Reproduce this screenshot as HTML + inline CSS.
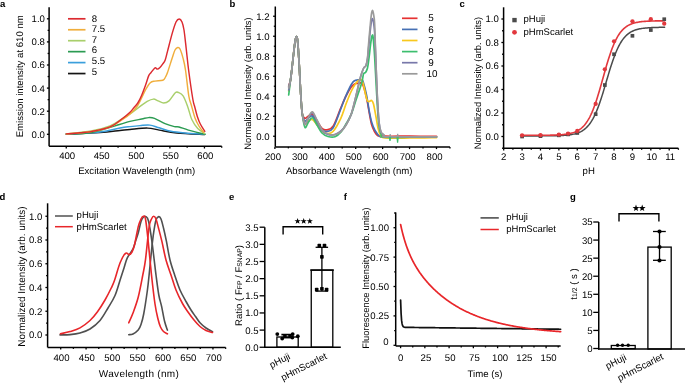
<!DOCTYPE html><html><head><meta charset="utf-8"><style>html,body{margin:0;padding:0;background:#fff;}svg{display:block;will-change:transform;}text{font-family:"Liberation Sans", sans-serif;text-rendering:geometricPrecision;}</style></head><body>
<svg width="685" height="384" viewBox="0 0 685 384">
<rect width="685" height="384" fill="#fff"/>
<text x="0" y="7.3" font-size="9.5" text-anchor="start" font-weight="bold" fill="#000">a</text>
<line x1="49.1" y1="146.3" x2="221.72" y2="146.3" stroke="#000" stroke-width="1.5" stroke-linecap="butt"/>
<line x1="66.25" y1="146.3" x2="66.25" y2="148.5" stroke="#000" stroke-width="1.3" stroke-linecap="butt"/>
<line x1="100.8" y1="146.3" x2="100.8" y2="148.5" stroke="#000" stroke-width="1.3" stroke-linecap="butt"/>
<line x1="135.35" y1="146.3" x2="135.35" y2="148.5" stroke="#000" stroke-width="1.3" stroke-linecap="butt"/>
<line x1="169.9" y1="146.3" x2="169.9" y2="148.5" stroke="#000" stroke-width="1.3" stroke-linecap="butt"/>
<line x1="204.45" y1="146.3" x2="204.45" y2="148.5" stroke="#000" stroke-width="1.3" stroke-linecap="butt"/>
<line x1="83.53" y1="146.3" x2="83.53" y2="147.8" stroke="#000" stroke-width="1.3" stroke-linecap="butt"/>
<line x1="118.07" y1="146.3" x2="118.07" y2="147.8" stroke="#000" stroke-width="1.3" stroke-linecap="butt"/>
<line x1="152.62" y1="146.3" x2="152.62" y2="147.8" stroke="#000" stroke-width="1.3" stroke-linecap="butt"/>
<line x1="187.18" y1="146.3" x2="187.18" y2="147.8" stroke="#000" stroke-width="1.3" stroke-linecap="butt"/>
<line x1="221.72" y1="146.3" x2="221.72" y2="147.8" stroke="#000" stroke-width="1.3" stroke-linecap="butt"/>
<text x="67.15" y="159.4" font-size="9.6" text-anchor="middle" font-weight="normal" fill="#000">400</text>
<text x="101.7" y="159.4" font-size="9.6" text-anchor="middle" font-weight="normal" fill="#000">450</text>
<text x="136.25" y="159.4" font-size="9.6" text-anchor="middle" font-weight="normal" fill="#000">500</text>
<text x="170.8" y="159.4" font-size="9.6" text-anchor="middle" font-weight="normal" fill="#000">550</text>
<text x="205.35" y="159.4" font-size="9.6" text-anchor="middle" font-weight="normal" fill="#000">600</text>
<line x1="49.1" y1="7.2" x2="49.1" y2="146.3" stroke="#000" stroke-width="1.5" stroke-linecap="butt"/>
<line x1="49.1" y1="134.3" x2="46.9" y2="134.3" stroke="#000" stroke-width="1.3" stroke-linecap="butt"/>
<line x1="49.1" y1="111.2" x2="46.9" y2="111.2" stroke="#000" stroke-width="1.3" stroke-linecap="butt"/>
<line x1="49.1" y1="88.1" x2="46.9" y2="88.1" stroke="#000" stroke-width="1.3" stroke-linecap="butt"/>
<line x1="49.1" y1="65" x2="46.9" y2="65" stroke="#000" stroke-width="1.3" stroke-linecap="butt"/>
<line x1="49.1" y1="41.9" x2="46.9" y2="41.9" stroke="#000" stroke-width="1.3" stroke-linecap="butt"/>
<line x1="49.1" y1="18.8" x2="46.9" y2="18.8" stroke="#000" stroke-width="1.3" stroke-linecap="butt"/>
<line x1="49.1" y1="122.75" x2="47.6" y2="122.75" stroke="#000" stroke-width="1.3" stroke-linecap="butt"/>
<line x1="49.1" y1="99.65" x2="47.6" y2="99.65" stroke="#000" stroke-width="1.3" stroke-linecap="butt"/>
<line x1="49.1" y1="76.55" x2="47.6" y2="76.55" stroke="#000" stroke-width="1.3" stroke-linecap="butt"/>
<line x1="49.1" y1="53.45" x2="47.6" y2="53.45" stroke="#000" stroke-width="1.3" stroke-linecap="butt"/>
<line x1="49.1" y1="30.35" x2="47.6" y2="30.35" stroke="#000" stroke-width="1.3" stroke-linecap="butt"/>
<text x="44.9" y="137.75" font-size="9.6" text-anchor="end" font-weight="normal" fill="#000">0.0</text>
<text x="44.9" y="114.65" font-size="9.6" text-anchor="end" font-weight="normal" fill="#000">0.2</text>
<text x="44.9" y="91.55" font-size="9.6" text-anchor="end" font-weight="normal" fill="#000">0.4</text>
<text x="44.9" y="68.45" font-size="9.6" text-anchor="end" font-weight="normal" fill="#000">0.6</text>
<text x="44.9" y="45.35" font-size="9.6" text-anchor="end" font-weight="normal" fill="#000">0.8</text>
<text x="44.9" y="22.25" font-size="9.6" text-anchor="end" font-weight="normal" fill="#000">1.0</text>
<text x="136.65" y="174" font-size="9.6" text-anchor="middle" font-weight="normal" fill="#000">Excitation Wavelength (nm)</text>
<text x="23" y="76.3" font-size="9.6" text-anchor="middle" font-weight="normal" fill="#000" transform="rotate(-90 23 76.3)">Emission intensity at 610 nm</text>
<line x1="68" y1="18.8" x2="85.5" y2="18.8" stroke="#dc2a30" stroke-width="1.7" stroke-linecap="butt"/>
<text x="91.8" y="21.55" font-size="9.6" text-anchor="start" font-weight="normal" fill="#000">8</text>
<line x1="68" y1="29.75" x2="85.5" y2="29.75" stroke="#f0ae3c" stroke-width="1.7" stroke-linecap="butt"/>
<text x="91.8" y="32.18" font-size="9.6" text-anchor="start" font-weight="normal" fill="#000">7.5</text>
<line x1="68" y1="40.7" x2="85.5" y2="40.7" stroke="#a9cf6c" stroke-width="1.7" stroke-linecap="butt"/>
<text x="91.8" y="42.81" font-size="9.6" text-anchor="start" font-weight="normal" fill="#000">7</text>
<line x1="68" y1="51.65" x2="85.5" y2="51.65" stroke="#2b9b52" stroke-width="1.7" stroke-linecap="butt"/>
<text x="91.8" y="53.44" font-size="9.6" text-anchor="start" font-weight="normal" fill="#000">6</text>
<line x1="68" y1="62.6" x2="85.5" y2="62.6" stroke="#3a9fdc" stroke-width="1.7" stroke-linecap="butt"/>
<text x="91.8" y="64.07" font-size="9.6" text-anchor="start" font-weight="normal" fill="#000">5.5</text>
<line x1="68" y1="73.55" x2="85.5" y2="73.55" stroke="#141414" stroke-width="1.7" stroke-linecap="butt"/>
<text x="91.8" y="74.7" font-size="9.6" text-anchor="start" font-weight="normal" fill="#000">5</text>
<path d="M66.3 134.2C71.92 133.92 91.05 133.12 100 132.5C108.95 131.88 115 131 120 130.5C125 130 125.42 129.9 130 129.5C134.58 129.1 142.63 128 147.5 128.1C152.37 128.2 154.33 129.28 159.2 130.1C164.07 130.92 169.1 132.27 176.7 133C184.3 133.73 200.12 134.25 204.8 134.5" fill="none" stroke="#141414" stroke-width="1.45" stroke-linejoin="round" stroke-linecap="round"/>
<path d="M66.3 134C71.92 133.67 91.05 133 100 132C108.95 131 115 128.9 120 128C125 127.1 126.67 127 130 126.6C133.33 126.2 136.68 125.85 140 125.6C143.32 125.35 146.7 124.73 149.9 125.1C153.1 125.47 155.7 126.77 159.2 127.8C162.7 128.83 166.6 130.43 170.9 131.3C175.2 132.17 179.35 132.52 185 133C190.65 133.48 201.5 134 204.8 134.2" fill="none" stroke="#3a9fdc" stroke-width="1.45" stroke-linejoin="round" stroke-linecap="round"/>
<path d="M66.3 134C70.42 133.75 82.15 134.08 91 132.5C99.85 130.92 112.9 126.36 119.4 124.5C125.9 122.64 126.28 122.27 130 121.35C133.72 120.43 138.58 119.62 141.7 119C144.82 118.38 146.57 117.7 148.7 117.6C150.83 117.5 151.78 117.38 154.5 118.4C157.22 119.42 161.68 122.33 165 123.7C168.32 125.07 172.07 126.05 174.4 126.6C176.73 127.15 176.67 126.42 179 127C181.33 127.58 184.1 128.9 188.4 130.1C192.7 131.3 202.07 133.52 204.8 134.2" fill="none" stroke="#2b9b52" stroke-width="1.45" stroke-linejoin="round" stroke-linecap="round"/>
<path d="M66.3 133.9C70.42 133.42 83.72 132.35 91 131C98.28 129.65 104.75 127.88 110 125.8C115.25 123.72 119.17 120.48 122.5 118.5C125.83 116.52 127.18 115.83 130 113.9C132.82 111.97 136.53 108.98 139.4 106.9C142.27 104.82 144.87 102.7 147.2 101.4C149.53 100.1 151.58 99.18 153.4 99.1C155.22 99.02 156.4 100.25 158.1 100.9C159.8 101.55 161.78 103 163.6 103C165.42 103 167.05 102.6 169 100.9C170.95 99.2 173.73 94.2 175.3 92.8C176.87 91.4 177.1 91.98 178.4 92.5C179.7 93.02 181.53 93.5 183.1 95.9C184.67 98.3 186.35 102.97 187.8 106.9C189.25 110.83 190.14 115.92 191.8 119.5C193.46 123.08 195.58 126.05 197.75 128.4C199.92 130.75 203.62 132.73 204.8 133.6" fill="none" stroke="#a9cf6c" stroke-width="1.45" stroke-linejoin="round" stroke-linecap="round"/>
<path d="M66.3 133.9C70.42 133.5 83.72 132.65 91 131.5C98.28 130.35 104.75 129 110 127C115.25 125 119.17 121.68 122.5 119.5C125.83 117.32 127.45 116.27 130 113.9C132.55 111.53 135.2 109.33 137.8 105.3C140.4 101.27 143.52 93.47 145.6 89.7C147.68 85.93 148.73 84.13 150.3 82.7C151.87 81.27 152.92 81.5 155 81.1C157.08 80.7 161.05 80.98 162.8 80.3C164.55 79.62 164.72 78.3 165.5 77C166.28 75.7 166.38 75.67 167.5 72.5C168.62 69.33 170.95 61.75 172.2 58C173.45 54.25 174.08 51.75 175 50C175.92 48.25 176.87 47.67 177.7 47.5C178.53 47.33 179.1 47.18 180 49C180.9 50.82 182.18 54.9 183.1 58.4C184.02 61.9 184.55 63.73 185.5 70C186.45 76.27 187.83 90.17 188.8 96C189.77 101.83 190.27 101.33 191.3 105C192.33 108.67 193.73 114.5 195 118C196.27 121.5 197.47 123.58 198.9 126C200.33 128.42 202.82 131.42 203.6 132.5" fill="none" stroke="#f0ae3c" stroke-width="1.45" stroke-linejoin="round" stroke-linecap="round"/>
<path d="M66.3 133.9C68.58 133.72 75.84 133.18 80 132.8C84.16 132.42 86.25 132.58 91.25 131.6C96.25 130.62 104.79 129.08 110 126.9C115.21 124.72 119.17 120.93 122.5 118.5C125.83 116.07 128.1 114.1 130 112.3C131.9 110.5 132.6 109.25 133.9 107.7C135.2 106.15 136.5 105.08 137.8 103C139.1 100.92 140.4 98.2 141.7 95.2C143 92.2 144.42 88.27 145.6 85C146.78 81.73 147.83 77.68 148.75 75.6C149.67 73.52 150.06 73.8 151.1 72.5C152.14 71.2 153.97 68.37 155 67.8C156.03 67.23 156.52 69.1 157.3 69.1C158.08 69.1 158.78 68.67 159.7 67.8C160.62 66.93 161.88 65.2 162.8 63.9C163.72 62.6 164.42 62.08 165.2 60C165.98 57.92 166.33 55.83 167.5 51.4C168.67 46.97 170.78 38.3 172.2 33.4C173.62 28.5 174.83 24.4 176 22C177.17 19.6 178.2 19 179.2 19C180.2 19 181.2 20.17 182 22C182.8 23.83 183.29 25.5 184 30C184.71 34.5 185.48 42.33 186.25 49C187.02 55.67 187.51 61.67 188.6 70C189.69 78.33 191.77 92.83 192.8 99C193.83 105.17 194.02 104 194.8 107C195.58 110 196.58 114.17 197.5 117C198.42 119.83 199.08 121.62 200.3 124C201.52 126.38 204.05 130.08 204.8 131.3" fill="none" stroke="#dc2a30" stroke-width="1.45" stroke-linejoin="round" stroke-linecap="round"/>
<text x="229.5" y="7.3" font-size="9.5" text-anchor="start" font-weight="bold" fill="#000">b</text>
<line x1="275.3" y1="146.9" x2="449.94" y2="146.9" stroke="#000" stroke-width="1.5" stroke-linecap="butt"/>
<line x1="274.9" y1="146.9" x2="274.9" y2="149.1" stroke="#000" stroke-width="1.3" stroke-linecap="butt"/>
<line x1="301.83" y1="146.9" x2="301.83" y2="149.1" stroke="#000" stroke-width="1.3" stroke-linecap="butt"/>
<line x1="328.76" y1="146.9" x2="328.76" y2="149.1" stroke="#000" stroke-width="1.3" stroke-linecap="butt"/>
<line x1="355.69" y1="146.9" x2="355.69" y2="149.1" stroke="#000" stroke-width="1.3" stroke-linecap="butt"/>
<line x1="382.62" y1="146.9" x2="382.62" y2="149.1" stroke="#000" stroke-width="1.3" stroke-linecap="butt"/>
<line x1="409.55" y1="146.9" x2="409.55" y2="149.1" stroke="#000" stroke-width="1.3" stroke-linecap="butt"/>
<line x1="436.48" y1="146.9" x2="436.48" y2="149.1" stroke="#000" stroke-width="1.3" stroke-linecap="butt"/>
<line x1="288.36" y1="146.9" x2="288.36" y2="148.4" stroke="#000" stroke-width="1.3" stroke-linecap="butt"/>
<line x1="315.29" y1="146.9" x2="315.29" y2="148.4" stroke="#000" stroke-width="1.3" stroke-linecap="butt"/>
<line x1="342.22" y1="146.9" x2="342.22" y2="148.4" stroke="#000" stroke-width="1.3" stroke-linecap="butt"/>
<line x1="369.15" y1="146.9" x2="369.15" y2="148.4" stroke="#000" stroke-width="1.3" stroke-linecap="butt"/>
<line x1="396.08" y1="146.9" x2="396.08" y2="148.4" stroke="#000" stroke-width="1.3" stroke-linecap="butt"/>
<line x1="423.01" y1="146.9" x2="423.01" y2="148.4" stroke="#000" stroke-width="1.3" stroke-linecap="butt"/>
<line x1="449.94" y1="146.9" x2="449.94" y2="148.4" stroke="#000" stroke-width="1.3" stroke-linecap="butt"/>
<text x="273" y="159.6" font-size="9.6" text-anchor="middle" font-weight="normal" fill="#000">200</text>
<text x="299.93" y="159.6" font-size="9.6" text-anchor="middle" font-weight="normal" fill="#000">300</text>
<text x="326.86" y="159.6" font-size="9.6" text-anchor="middle" font-weight="normal" fill="#000">400</text>
<text x="353.79" y="159.6" font-size="9.6" text-anchor="middle" font-weight="normal" fill="#000">500</text>
<text x="380.72" y="159.6" font-size="9.6" text-anchor="middle" font-weight="normal" fill="#000">600</text>
<text x="407.65" y="159.6" font-size="9.6" text-anchor="middle" font-weight="normal" fill="#000">700</text>
<text x="434.58" y="159.6" font-size="9.6" text-anchor="middle" font-weight="normal" fill="#000">800</text>
<line x1="275.3" y1="6.5" x2="275.3" y2="146.9" stroke="#000" stroke-width="1.5" stroke-linecap="butt"/>
<line x1="275.3" y1="136.25" x2="273.1" y2="136.25" stroke="#000" stroke-width="1.3" stroke-linecap="butt"/>
<line x1="275.3" y1="116.25" x2="273.1" y2="116.25" stroke="#000" stroke-width="1.3" stroke-linecap="butt"/>
<line x1="275.3" y1="96.25" x2="273.1" y2="96.25" stroke="#000" stroke-width="1.3" stroke-linecap="butt"/>
<line x1="275.3" y1="76.25" x2="273.1" y2="76.25" stroke="#000" stroke-width="1.3" stroke-linecap="butt"/>
<line x1="275.3" y1="56.25" x2="273.1" y2="56.25" stroke="#000" stroke-width="1.3" stroke-linecap="butt"/>
<line x1="275.3" y1="36.25" x2="273.1" y2="36.25" stroke="#000" stroke-width="1.3" stroke-linecap="butt"/>
<line x1="275.3" y1="16.25" x2="273.1" y2="16.25" stroke="#000" stroke-width="1.3" stroke-linecap="butt"/>
<line x1="275.3" y1="126.25" x2="273.8" y2="126.25" stroke="#000" stroke-width="1.3" stroke-linecap="butt"/>
<line x1="275.3" y1="106.25" x2="273.8" y2="106.25" stroke="#000" stroke-width="1.3" stroke-linecap="butt"/>
<line x1="275.3" y1="86.25" x2="273.8" y2="86.25" stroke="#000" stroke-width="1.3" stroke-linecap="butt"/>
<line x1="275.3" y1="66.25" x2="273.8" y2="66.25" stroke="#000" stroke-width="1.3" stroke-linecap="butt"/>
<line x1="275.3" y1="46.25" x2="273.8" y2="46.25" stroke="#000" stroke-width="1.3" stroke-linecap="butt"/>
<line x1="275.3" y1="26.25" x2="273.8" y2="26.25" stroke="#000" stroke-width="1.3" stroke-linecap="butt"/>
<text x="269.6" y="139.7" font-size="9.6" text-anchor="end" font-weight="normal" fill="#000">0.0</text>
<text x="269.6" y="119.7" font-size="9.6" text-anchor="end" font-weight="normal" fill="#000">0.2</text>
<text x="269.6" y="99.7" font-size="9.6" text-anchor="end" font-weight="normal" fill="#000">0.4</text>
<text x="269.6" y="79.7" font-size="9.6" text-anchor="end" font-weight="normal" fill="#000">0.6</text>
<text x="269.6" y="59.7" font-size="9.6" text-anchor="end" font-weight="normal" fill="#000">0.8</text>
<text x="269.6" y="39.7" font-size="9.6" text-anchor="end" font-weight="normal" fill="#000">1.0</text>
<text x="269.6" y="19.7" font-size="9.6" text-anchor="end" font-weight="normal" fill="#000">1.2</text>
<text x="349.19" y="174" font-size="9.6" text-anchor="middle" font-weight="normal" fill="#000">Absorbance Wavelength (nm)</text>
<text x="251.3" y="83.5" font-size="9.4" text-anchor="middle" font-weight="normal" fill="#000" transform="rotate(-90 251.3 83.5)">Normalized Intensity (arb. units)</text>
<line x1="402" y1="18.3" x2="417.5" y2="18.3" stroke="#e63232" stroke-width="1.7" stroke-linecap="butt"/>
<text x="428.3" y="21.4" font-size="9.9" text-anchor="start" font-weight="normal" fill="#000">5</text>
<line x1="402" y1="29.4" x2="417.5" y2="29.4" stroke="#4670b4" stroke-width="1.7" stroke-linecap="butt"/>
<text x="428.3" y="32.5" font-size="9.9" text-anchor="start" font-weight="normal" fill="#000">6</text>
<line x1="402" y1="40.5" x2="417.5" y2="40.5" stroke="#f8c81e" stroke-width="1.7" stroke-linecap="butt"/>
<text x="428.3" y="43.6" font-size="9.9" text-anchor="start" font-weight="normal" fill="#000">7</text>
<line x1="402" y1="51.6" x2="417.5" y2="51.6" stroke="#3cbe6e" stroke-width="1.7" stroke-linecap="butt"/>
<text x="428.3" y="54.7" font-size="9.9" text-anchor="start" font-weight="normal" fill="#000">8</text>
<line x1="402" y1="62.7" x2="417.5" y2="62.7" stroke="#7878aa" stroke-width="1.7" stroke-linecap="butt"/>
<text x="428.3" y="65.8" font-size="9.9" text-anchor="start" font-weight="normal" fill="#000">9</text>
<line x1="402" y1="73.8" x2="417.5" y2="73.8" stroke="#9a9a9a" stroke-width="1.7" stroke-linecap="butt"/>
<text x="426.5" y="76.9" font-size="9.9" text-anchor="start" font-weight="normal" fill="#000">10</text>
<path d="M288.7 86C289 85 289.95 83 290.5 80C291.05 77 291.42 73 292 68C292.58 63 293.47 54.5 294 50C294.53 45.5 294.85 43.17 295.2 41C295.55 38.83 295.77 37.5 296.1 37C296.43 36.5 296.85 36.17 297.2 38C297.55 39.83 297.82 42.67 298.2 48C298.58 53.33 299.07 62.17 299.5 70C299.93 77.83 300.33 87.67 300.8 95C301.27 102.33 301.6 110.12 302.3 114C303 117.88 303.97 117.97 305 118.3C306.03 118.63 307.27 116.63 308.5 116C309.73 115.37 310.98 113.67 312.4 114.5C313.82 115.33 315.4 118.67 317 121C318.6 123.33 320.33 127.03 322 128.5C323.67 129.97 325.12 130.22 327 129.8C328.88 129.38 331 129.65 333.3 126C335.6 122.35 338.68 112.9 340.8 107.9C342.92 102.9 344.26 99.48 346 96C347.74 92.52 349.75 89.03 351.25 87C352.75 84.97 353.96 84.42 355 83.8C356.04 83.18 356.38 83.38 357.5 83.3C358.62 83.22 360.62 82.52 361.7 83.3C362.78 84.08 363.12 85.22 364 88C364.88 90.78 366.08 95.67 367 100C367.92 104.33 368.73 109.92 369.5 114C370.27 118.08 370.77 121.58 371.6 124.5C372.43 127.42 373.47 129.65 374.5 131.5C375.53 133.35 376.05 134.82 377.8 135.6C379.55 136.38 379.63 136.1 385 136.2C390.37 136.3 401.42 136.18 410 136.2C418.58 136.22 432.08 136.28 436.5 136.3" fill="none" stroke="#e63232" stroke-width="1.7" stroke-linejoin="round" stroke-linecap="round"/>
<path d="M288.7 87C289 85.83 289.95 83.17 290.5 80C291.05 76.83 291.42 73 292 68C292.58 63 293.47 54.5 294 50C294.53 45.5 294.85 43.17 295.2 41C295.55 38.83 295.77 37.5 296.1 37C296.43 36.5 296.85 36.17 297.2 38C297.55 39.83 297.82 42.67 298.2 48C298.58 53.33 299.07 62.17 299.5 70C299.93 77.83 300.33 87.67 300.8 95C301.27 102.33 301.6 109.67 302.3 114C303 118.33 303.97 120.33 305 121C306.03 121.67 307.27 118.83 308.5 118C309.73 117.17 310.98 115.17 312.4 116C313.82 116.83 315.4 120.67 317 123C318.6 125.33 320.33 128.58 322 130C323.67 131.42 325.17 131.83 327 131.5C328.83 131.17 330.83 131.42 333 128C335.17 124.58 338 116 340 111C342 106 343.33 102 345 98C346.67 94 348.67 89.67 350 87C351.33 84.33 352.1 83.1 353 82C353.9 80.9 353.95 80.77 355.4 80.4C356.85 80.03 360.35 79.37 361.7 79.8C363.05 80.23 362.7 80.47 363.5 83C364.3 85.53 365.58 90.5 366.5 95C367.42 99.5 368.15 105.5 369 110C369.85 114.5 370.6 118.58 371.6 122C372.6 125.42 373.6 128.07 375 130.5C376.4 132.93 378.33 135.55 380 136.6C381.67 137.65 380 136.77 385 136.8C390 136.83 401.42 136.8 410 136.8C418.58 136.8 432.08 136.8 436.5 136.8" fill="none" stroke="#4670b4" stroke-width="1.7" stroke-linejoin="round" stroke-linecap="round"/>
<path d="M288.7 91C289 89.17 289.95 83.83 290.5 80C291.05 76.17 291.42 73 292 68C292.58 63 293.47 54.5 294 50C294.53 45.5 294.85 43.17 295.2 41C295.55 38.83 295.77 37.5 296.1 37C296.43 36.5 296.85 36.17 297.2 38C297.55 39.83 297.82 42.67 298.2 48C298.58 53.33 299.07 62.17 299.5 70C299.93 77.83 300.33 87.67 300.8 95C301.27 102.33 301.6 109.17 302.3 114C303 118.83 303.97 122.83 305 124C306.03 125.17 307.27 121.75 308.5 121C309.73 120.25 310.98 118.83 312.4 119.5C313.82 120.17 315.4 123.08 317 125C318.6 126.92 320.33 129.58 322 131C323.67 132.42 325.17 133.42 327 133.5C328.83 133.58 330.7 134.03 333 131.5C335.3 128.97 338.63 122.88 340.8 118.3C342.97 113.72 344.26 108.51 346 104C347.74 99.49 349.58 94.75 351.25 91.25C352.92 87.75 354.62 84.88 356 83C357.38 81.12 358.55 80.53 359.5 80C360.45 79.47 361.03 78.97 361.7 79.8C362.37 80.63 362.63 81.7 363.5 85C364.37 88.3 365.98 96.85 366.9 99.6C367.82 102.35 368.23 101.35 369 101.5C369.77 101.65 370.75 100.08 371.5 100.5C372.25 100.92 372.71 101.03 373.5 104C374.29 106.97 375.5 114.3 376.25 118.3C377 122.3 377.31 125.22 378 128C378.69 130.78 379.23 133.37 380.4 135C381.57 136.63 380.07 137.3 385 137.8C389.93 138.3 401.42 138.03 410 138C418.58 137.97 432.08 137.67 436.5 137.6" fill="none" stroke="#f8c81e" stroke-width="1.7" stroke-linejoin="round" stroke-linecap="round"/>
<path d="M288.7 95C289 92.5 289.95 84.5 290.5 80C291.05 75.5 291.42 73 292 68C292.58 63 293.47 54.5 294 50C294.53 45.5 294.85 43.17 295.2 41C295.55 38.83 295.77 37.5 296.1 37C296.43 36.5 296.85 36.17 297.2 38C297.55 39.83 297.82 42.67 298.2 48C298.58 53.33 299.07 62.17 299.5 70C299.93 77.83 300.33 87.67 300.8 95C301.27 102.33 301.6 108.58 302.3 114C303 119.42 303.97 126.17 305 127.5C306.03 128.83 307.27 123.62 308.5 122C309.73 120.38 310.98 117.3 312.4 117.8C313.82 118.3 315.4 122.47 317 125C318.6 127.53 320.18 131.08 322 133C323.82 134.92 325.73 135.87 327.9 136.5C330.07 137.13 332.82 137.55 335 136.8C337.18 136.05 339.17 134.13 341 132C342.83 129.87 344.29 126.97 346 124C347.71 121.03 349.58 118.2 351.25 114.2C352.92 110.2 354.26 105.22 356 100C357.74 94.78 360.45 87.23 361.7 82.9C362.95 78.57 362.87 75.73 363.5 74C364.13 72.27 364.83 73.5 365.5 72.5C366.17 71.5 366.92 70.42 367.5 68C368.08 65.58 368.5 61.83 369 58C369.5 54.17 370.08 48.33 370.5 45C370.92 41.67 371.2 39.67 371.5 38C371.8 36.33 372.02 35 372.3 35C372.58 35 372.82 34.5 373.2 38C373.58 41.5 374.13 48.67 374.6 56C375.07 63.33 375.52 73.33 376 82C376.48 90.67 377 100.67 377.5 108C378 115.33 378.42 121.67 379 126C379.58 130.33 380.17 132.13 381 134C381.83 135.87 379.17 136.67 384 137.2C388.83 137.73 401.25 137.23 410 137.2C418.75 137.17 432.08 137.03 436.5 137" fill="none" stroke="#3cbe6e" stroke-width="1.7" stroke-linejoin="round" stroke-linecap="round"/>
<path d="M288.7 90C289 88.33 289.95 83.67 290.5 80C291.05 76.33 291.42 73 292 68C292.58 63 293.47 54.5 294 50C294.53 45.5 294.85 43.17 295.2 41C295.55 38.83 295.77 37.5 296.1 37C296.43 36.5 296.85 36.17 297.2 38C297.55 39.83 297.82 42.67 298.2 48C298.58 53.33 299.07 62.17 299.5 70C299.93 77.83 300.33 87.67 300.8 95C301.27 102.33 301.6 109.17 302.3 114C303 118.83 303.97 123.33 305 124C306.03 124.67 307.27 119.83 308.5 118C309.73 116.17 310.98 112.5 312.4 113C313.82 113.5 315.4 118.08 317 121C318.6 123.92 320.17 128.25 322 130.5C323.83 132.75 325.83 133.83 328 134.5C330.17 135.17 332.83 135.08 335 134.5C337.17 133.92 339.17 132.58 341 131C342.83 129.42 344.29 127.8 346 125C347.71 122.2 349.58 119.03 351.25 114.2C352.92 109.37 354.44 102.25 356 96C357.56 89.75 359.32 81.37 360.6 76.7C361.88 72.03 362.8 69.87 363.7 68C364.6 66.13 365.35 67.17 366 65.5C366.65 63.83 367.15 61.08 367.6 58C368.05 54.92 368.3 51.17 368.7 47C369.1 42.83 369.57 37.17 370 33C370.43 28.83 370.9 24.38 371.3 22C371.7 19.62 372.03 18.7 372.4 18.7C372.77 18.7 373.13 19.78 373.5 22C373.87 24.22 374.27 27 374.6 32C374.93 37 375.2 44.83 375.5 52C375.8 59.17 376.07 67 376.4 75C376.73 83 377.07 92.17 377.5 100C377.93 107.83 378.42 116.67 379 122C379.58 127.33 380.17 129.8 381 132C381.83 134.2 383.33 134.4 384 135.2C384.67 136 380.67 136.53 385 136.8C389.33 137.07 401.42 136.8 410 136.8C418.58 136.8 432.08 136.8 436.5 136.8" fill="none" stroke="#7878aa" stroke-width="1.7" stroke-linejoin="round" stroke-linecap="round"/>
<path d="M288.7 88C289 86.67 289.95 83.33 290.5 80C291.05 76.67 291.42 73 292 68C292.58 63 293.47 54.5 294 50C294.53 45.5 294.85 43.17 295.2 41C295.55 38.83 295.77 37.5 296.1 37C296.43 36.5 296.85 36.17 297.2 38C297.55 39.83 297.82 42.67 298.2 48C298.58 53.33 299.07 62.17 299.5 70C299.93 77.83 300.33 87.67 300.8 95C301.27 102.33 301.6 109.05 302.3 114C303 118.95 303.97 124.2 305 124.7C306.03 125.2 307.27 119.13 308.5 117C309.73 114.87 310.98 111.4 312.4 111.9C313.82 112.4 315.33 116.95 317 120C318.67 123.05 320.57 127.87 322.4 130.2C324.23 132.53 325.9 133.25 328 134C330.1 134.75 332.83 135.12 335 134.7C337.17 134.28 339.17 133.12 341 131.5C342.83 129.88 344.29 127.88 346 125C347.71 122.12 349.58 119.03 351.25 114.2C352.92 109.37 354.44 102.25 356 96C357.56 89.75 359.32 81.37 360.6 76.7C361.88 72.03 362.8 69.87 363.7 68C364.6 66.13 365.37 67.17 366 65.5C366.63 63.83 367.08 61.42 367.5 58C367.92 54.58 368.08 50 368.5 45C368.92 40 369.53 33 370 28C370.47 23 370.9 17.92 371.3 15C371.7 12.08 372.03 10.67 372.4 10.5C372.77 10.33 373.13 11.88 373.5 14C373.87 16.12 374.27 17.1 374.6 23.2C374.93 29.3 375.2 41.97 375.5 50.6C375.8 59.23 376.07 66.77 376.4 75C376.73 83.23 377.07 92.17 377.5 100C377.93 107.83 378.42 116.67 379 122C379.58 127.33 380.17 129.83 381 132C381.83 134.17 383.33 134.2 384 135C384.67 135.8 380.67 136.5 385 136.8C389.33 137.1 401.42 136.8 410 136.8C418.58 136.8 432.08 136.8 436.5 136.8" fill="none" stroke="#9a9a9a" stroke-width="1.7" stroke-linejoin="round" stroke-linecap="round"/>
<path d="M389.3 137.2 L390 140.8 L390.7 137.2 M397 137.2 L397.6 142.6 L398.2 137.2" fill="none" stroke="#3cbe6e" stroke-width="1.2"/>
<path d="M389.6 136.8 L390.2 134.2 L390.8 136.8 M397.1 136.8 L397.7 133.8 L398.3 136.8" fill="none" stroke="#9a9a9a" stroke-width="1.1"/>
<text x="459.5" y="7.3" font-size="9.5" text-anchor="start" font-weight="bold" fill="#000">c</text>
<line x1="503.6" y1="148.3" x2="678.4" y2="148.3" stroke="#000" stroke-width="1.5" stroke-linecap="butt"/>
<line x1="503.7" y1="148.3" x2="503.7" y2="150.5" stroke="#000" stroke-width="1.3" stroke-linecap="butt"/>
<line x1="522.09" y1="148.3" x2="522.09" y2="150.5" stroke="#000" stroke-width="1.3" stroke-linecap="butt"/>
<line x1="540.48" y1="148.3" x2="540.48" y2="150.5" stroke="#000" stroke-width="1.3" stroke-linecap="butt"/>
<line x1="558.87" y1="148.3" x2="558.87" y2="150.5" stroke="#000" stroke-width="1.3" stroke-linecap="butt"/>
<line x1="577.26" y1="148.3" x2="577.26" y2="150.5" stroke="#000" stroke-width="1.3" stroke-linecap="butt"/>
<line x1="595.65" y1="148.3" x2="595.65" y2="150.5" stroke="#000" stroke-width="1.3" stroke-linecap="butt"/>
<line x1="614.04" y1="148.3" x2="614.04" y2="150.5" stroke="#000" stroke-width="1.3" stroke-linecap="butt"/>
<line x1="632.43" y1="148.3" x2="632.43" y2="150.5" stroke="#000" stroke-width="1.3" stroke-linecap="butt"/>
<line x1="650.82" y1="148.3" x2="650.82" y2="150.5" stroke="#000" stroke-width="1.3" stroke-linecap="butt"/>
<line x1="669.21" y1="148.3" x2="669.21" y2="150.5" stroke="#000" stroke-width="1.3" stroke-linecap="butt"/>
<line x1="512.89" y1="148.3" x2="512.89" y2="149.8" stroke="#000" stroke-width="1.3" stroke-linecap="butt"/>
<line x1="531.28" y1="148.3" x2="531.28" y2="149.8" stroke="#000" stroke-width="1.3" stroke-linecap="butt"/>
<line x1="549.67" y1="148.3" x2="549.67" y2="149.8" stroke="#000" stroke-width="1.3" stroke-linecap="butt"/>
<line x1="568.07" y1="148.3" x2="568.07" y2="149.8" stroke="#000" stroke-width="1.3" stroke-linecap="butt"/>
<line x1="586.45" y1="148.3" x2="586.45" y2="149.8" stroke="#000" stroke-width="1.3" stroke-linecap="butt"/>
<line x1="604.85" y1="148.3" x2="604.85" y2="149.8" stroke="#000" stroke-width="1.3" stroke-linecap="butt"/>
<line x1="623.24" y1="148.3" x2="623.24" y2="149.8" stroke="#000" stroke-width="1.3" stroke-linecap="butt"/>
<line x1="641.62" y1="148.3" x2="641.62" y2="149.8" stroke="#000" stroke-width="1.3" stroke-linecap="butt"/>
<line x1="660.01" y1="148.3" x2="660.01" y2="149.8" stroke="#000" stroke-width="1.3" stroke-linecap="butt"/>
<line x1="678.4" y1="148.3" x2="678.4" y2="149.8" stroke="#000" stroke-width="1.3" stroke-linecap="butt"/>
<text x="503.7" y="160" font-size="9.6" text-anchor="middle" font-weight="normal" fill="#000">2</text>
<text x="522.09" y="160" font-size="9.6" text-anchor="middle" font-weight="normal" fill="#000">3</text>
<text x="540.48" y="160" font-size="9.6" text-anchor="middle" font-weight="normal" fill="#000">4</text>
<text x="558.87" y="160" font-size="9.6" text-anchor="middle" font-weight="normal" fill="#000">5</text>
<text x="577.26" y="160" font-size="9.6" text-anchor="middle" font-weight="normal" fill="#000">6</text>
<text x="595.65" y="160" font-size="9.6" text-anchor="middle" font-weight="normal" fill="#000">7</text>
<text x="614.04" y="160" font-size="9.6" text-anchor="middle" font-weight="normal" fill="#000">8</text>
<text x="632.43" y="160" font-size="9.6" text-anchor="middle" font-weight="normal" fill="#000">9</text>
<text x="651.82" y="160" font-size="9.6" text-anchor="middle" font-weight="normal" fill="#000">10</text>
<text x="670.21" y="160" font-size="9.6" text-anchor="middle" font-weight="normal" fill="#000">11</text>
<line x1="503.6" y1="7.3" x2="503.6" y2="148.3" stroke="#000" stroke-width="1.5" stroke-linecap="butt"/>
<line x1="503.6" y1="136.5" x2="501.4" y2="136.5" stroke="#000" stroke-width="1.3" stroke-linecap="butt"/>
<line x1="503.6" y1="113" x2="501.4" y2="113" stroke="#000" stroke-width="1.3" stroke-linecap="butt"/>
<line x1="503.6" y1="89.5" x2="501.4" y2="89.5" stroke="#000" stroke-width="1.3" stroke-linecap="butt"/>
<line x1="503.6" y1="66" x2="501.4" y2="66" stroke="#000" stroke-width="1.3" stroke-linecap="butt"/>
<line x1="503.6" y1="42.5" x2="501.4" y2="42.5" stroke="#000" stroke-width="1.3" stroke-linecap="butt"/>
<line x1="503.6" y1="19" x2="501.4" y2="19" stroke="#000" stroke-width="1.3" stroke-linecap="butt"/>
<line x1="503.6" y1="124.75" x2="502.1" y2="124.75" stroke="#000" stroke-width="1.3" stroke-linecap="butt"/>
<line x1="503.6" y1="101.25" x2="502.1" y2="101.25" stroke="#000" stroke-width="1.3" stroke-linecap="butt"/>
<line x1="503.6" y1="77.75" x2="502.1" y2="77.75" stroke="#000" stroke-width="1.3" stroke-linecap="butt"/>
<line x1="503.6" y1="54.25" x2="502.1" y2="54.25" stroke="#000" stroke-width="1.3" stroke-linecap="butt"/>
<line x1="503.6" y1="30.75" x2="502.1" y2="30.75" stroke="#000" stroke-width="1.3" stroke-linecap="butt"/>
<line x1="503.6" y1="148.25" x2="502.1" y2="148.25" stroke="#000" stroke-width="1.3" stroke-linecap="butt"/>
<text x="498.8" y="139.95" font-size="9.6" text-anchor="end" font-weight="normal" fill="#000">0.0</text>
<text x="498.8" y="116.45" font-size="9.6" text-anchor="end" font-weight="normal" fill="#000">0.2</text>
<text x="498.8" y="92.95" font-size="9.6" text-anchor="end" font-weight="normal" fill="#000">0.4</text>
<text x="498.8" y="69.45" font-size="9.6" text-anchor="end" font-weight="normal" fill="#000">0.6</text>
<text x="498.8" y="45.95" font-size="9.6" text-anchor="end" font-weight="normal" fill="#000">0.8</text>
<text x="498.8" y="22.45" font-size="9.6" text-anchor="end" font-weight="normal" fill="#000">1.0</text>
<text x="588.75" y="174" font-size="9.6" text-anchor="middle" font-weight="normal" fill="#000">pH</text>
<text x="480.8" y="83" font-size="9.4" text-anchor="middle" font-weight="normal" fill="#000" transform="rotate(-90 480.8 83)">Normalized Intensity (arb. units)</text>
<path d="M522.09 135.91 L523.01 135.91 L523.93 135.91 L524.85 135.91 L525.77 135.91 L526.69 135.91 L527.61 135.91 L528.53 135.91 L529.45 135.91 L530.37 135.9 L531.28 135.9 L532.2 135.9 L533.12 135.9 L534.04 135.9 L534.96 135.9 L535.88 135.9 L536.8 135.89 L537.72 135.89 L538.64 135.89 L539.56 135.89 L540.48 135.88 L541.4 135.88 L542.32 135.88 L543.24 135.87 L544.16 135.87 L545.08 135.86 L546 135.86 L546.92 135.85 L547.84 135.84 L548.76 135.83 L549.67 135.82 L550.59 135.81 L551.51 135.8 L552.43 135.78 L553.35 135.77 L554.27 135.75 L555.19 135.73 L556.11 135.71 L557.03 135.69 L557.95 135.66 L558.87 135.63 L559.79 135.59 L560.71 135.55 L561.63 135.51 L562.55 135.46 L563.47 135.41 L564.39 135.35 L565.31 135.28 L566.23 135.2 L567.15 135.11 L568.07 135.02 L568.98 134.91 L569.9 134.79 L570.82 134.65 L571.74 134.5 L572.66 134.33 L573.58 134.14 L574.5 133.93 L575.42 133.69 L576.34 133.42 L577.26 133.13 L578.18 132.8 L579.1 132.43 L580.02 132.02 L580.94 131.56 L581.86 131.06 L582.78 130.49 L583.7 129.87 L584.62 129.18 L585.54 128.41 L586.45 127.57 L587.37 126.64 L588.29 125.61 L589.21 124.49 L590.13 123.25 L591.05 121.91 L591.97 120.44 L592.89 118.85 L593.81 117.13 L594.73 115.27 L595.65 113.28 L596.57 111.15 L597.49 108.88 L598.41 106.47 L599.33 103.93 L600.25 101.28 L601.17 98.5 L602.09 95.63 L603.01 92.67 L603.93 89.64 L604.85 86.56 L605.76 83.44 L606.68 80.32 L607.6 77.2 L608.52 74.11 L609.44 71.07 L610.36 68.09 L611.28 65.2 L612.2 62.41 L613.12 59.73 L614.04 57.16 L614.96 54.73 L615.88 52.43 L616.8 50.27 L617.72 48.25 L618.64 46.37 L619.56 44.62 L620.48 43 L621.4 41.51 L622.32 40.14 L623.24 38.89 L624.15 37.74 L625.07 36.7 L625.99 35.75 L626.91 34.89 L627.83 34.11 L628.75 33.4 L629.67 32.76 L630.59 32.19 L631.51 31.67 L632.43 31.21 L633.35 30.79 L634.27 30.41 L635.19 30.07 L636.11 29.77 L637.03 29.5 L637.95 29.26 L638.87 29.04 L639.79 28.85 L640.71 28.67 L641.62 28.52 L642.54 28.38 L643.46 28.25 L644.38 28.14 L645.3 28.04 L646.22 27.95 L647.14 27.88 L648.06 27.81 L648.98 27.74 L649.9 27.69 L650.82 27.64 L651.74 27.59 L652.66 27.55 L653.58 27.52 L654.5 27.49 L655.42 27.46 L656.34 27.43 L657.26 27.41 L658.18 27.39 L659.1 27.37 L660.01 27.36 L660.93 27.34 L661.85 27.33 L662.77 27.32 L663.69 27.31 L664.61 27.3" fill="none" stroke="#4b4b4b" stroke-width="1.5" stroke-linejoin="round" stroke-linecap="round"/>
<path d="M522.09 135.32 L523.01 135.32 L523.93 135.32 L524.85 135.32 L525.77 135.32 L526.69 135.32 L527.61 135.32 L528.53 135.31 L529.45 135.31 L530.37 135.31 L531.28 135.31 L532.2 135.31 L533.12 135.31 L534.04 135.3 L534.96 135.3 L535.88 135.3 L536.8 135.3 L537.72 135.29 L538.64 135.29 L539.56 135.28 L540.48 135.28 L541.4 135.27 L542.32 135.27 L543.24 135.26 L544.16 135.25 L545.08 135.24 L546 135.23 L546.92 135.22 L547.84 135.21 L548.76 135.2 L549.67 135.18 L550.59 135.16 L551.51 135.14 L552.43 135.12 L553.35 135.1 L554.27 135.07 L555.19 135.04 L556.11 135 L557.03 134.96 L557.95 134.92 L558.87 134.87 L559.79 134.82 L560.71 134.75 L561.63 134.68 L562.55 134.61 L563.47 134.52 L564.39 134.42 L565.31 134.31 L566.23 134.19 L567.15 134.05 L568.07 133.9 L568.98 133.73 L569.9 133.54 L570.82 133.32 L571.74 133.08 L572.66 132.82 L573.58 132.52 L574.5 132.18 L575.42 131.81 L576.34 131.4 L577.26 130.94 L578.18 130.43 L579.1 129.86 L580.02 129.23 L580.94 128.53 L581.86 127.75 L582.78 126.89 L583.7 125.95 L584.62 124.91 L585.54 123.77 L586.45 122.52 L587.37 121.15 L588.29 119.65 L589.21 118.03 L590.13 116.27 L591.05 114.37 L591.97 112.33 L592.89 110.14 L593.81 107.8 L594.73 105.32 L595.65 102.7 L596.57 99.95 L597.49 97.08 L598.41 94.09 L599.33 91 L600.25 87.84 L601.17 84.61 L602.09 81.34 L603.01 78.04 L603.93 74.75 L604.85 71.48 L605.76 68.25 L606.68 65.08 L607.6 62 L608.52 59.01 L609.44 56.14 L610.36 53.38 L611.28 50.77 L612.2 48.29 L613.12 45.95 L614.04 43.76 L614.96 41.72 L615.88 39.82 L616.8 38.06 L617.72 36.44 L618.64 34.94 L619.56 33.57 L620.48 32.32 L621.4 31.18 L622.32 30.14 L623.24 29.19 L624.15 28.34 L625.07 27.56 L625.99 26.86 L626.91 26.23 L627.83 25.66 L628.75 25.15 L629.67 24.69 L630.59 24.27 L631.51 23.9 L632.43 23.57 L633.35 23.27 L634.27 23 L635.19 22.76 L636.11 22.55 L637.03 22.36 L637.95 22.19 L638.87 22.03 L639.79 21.9 L640.71 21.77 L641.62 21.67 L642.54 21.57 L643.46 21.48 L644.38 21.4 L645.3 21.33 L646.22 21.27 L647.14 21.22 L648.06 21.17 L648.98 21.12 L649.9 21.08 L650.82 21.05 L651.74 21.02 L652.66 20.99 L653.58 20.97 L654.5 20.94 L655.42 20.92 L656.34 20.91 L657.26 20.89 L658.18 20.88 L659.1 20.86 L660.01 20.85 L660.93 20.84 L661.85 20.83 L662.77 20.83 L663.69 20.82 L664.61 20.81" fill="none" stroke="#e2383d" stroke-width="1.6" stroke-linejoin="round" stroke-linecap="round"/>
<rect x="520.24" y="134.65" width="3.7" height="3.7" fill="#4b4b4b"/>
<rect x="538.63" y="134.3" width="3.7" height="3.7" fill="#4b4b4b"/>
<rect x="557.02" y="133.47" width="3.7" height="3.7" fill="#4b4b4b"/>
<rect x="566.22" y="132.53" width="3.7" height="3.7" fill="#4b4b4b"/>
<rect x="575.41" y="131.12" width="3.7" height="3.7" fill="#4b4b4b"/>
<rect x="593.8" y="112.33" width="3.7" height="3.7" fill="#4b4b4b"/>
<rect x="603" y="83.19" width="3.7" height="3.7" fill="#4b4b4b"/>
<rect x="612.19" y="52.4" width="3.7" height="3.7" fill="#4b4b4b"/>
<rect x="630.58" y="33.95" width="3.7" height="3.7" fill="#4b4b4b"/>
<rect x="648.97" y="28.2" width="3.7" height="3.7" fill="#4b4b4b"/>
<rect x="662.39" y="17.38" width="3.7" height="3.7" fill="#4b4b4b"/>
<circle cx="522.09" cy="135.32" r="2.15" fill="#e2383d"/>
<circle cx="540.48" cy="135.21" r="2.15" fill="#e2383d"/>
<circle cx="558.87" cy="134.62" r="2.15" fill="#e2383d"/>
<circle cx="568.07" cy="133.56" r="2.15" fill="#e2383d"/>
<circle cx="577.26" cy="130.98" r="2.15" fill="#e2383d"/>
<circle cx="595.65" cy="103.95" r="2.15" fill="#e2383d"/>
<circle cx="604.85" cy="69.29" r="2.15" fill="#e2383d"/>
<circle cx="614.04" cy="41.32" r="2.15" fill="#e2383d"/>
<circle cx="632.43" cy="21.35" r="2.15" fill="#e2383d"/>
<circle cx="650.82" cy="19.23" r="2.15" fill="#e2383d"/>
<circle cx="664.24" cy="23.7" r="2.15" fill="#e2383d"/>
<rect x="512.3" y="17.9" width="4.4" height="4.4" fill="#4b4b4b"/>
<circle cx="514.5" cy="32.3" r="2.4" fill="#e2383d"/>
<text x="523.5" y="22" font-size="9.5" text-anchor="start" font-weight="normal" fill="#000">pHuji</text>
<text x="523.5" y="34.5" font-size="9.5" text-anchor="start" font-weight="normal" fill="#000">pHmScarlet</text>
<text x="-0.5" y="199.6" font-size="9.5" text-anchor="start" font-weight="bold" fill="#000">d</text>
<line x1="47.6" y1="347.4" x2="225.64" y2="347.4" stroke="#000" stroke-width="1.5" stroke-linecap="butt"/>
<line x1="60.7" y1="347.4" x2="60.7" y2="349.6" stroke="#000" stroke-width="1.3" stroke-linecap="butt"/>
<line x1="86.08" y1="347.4" x2="86.08" y2="349.6" stroke="#000" stroke-width="1.3" stroke-linecap="butt"/>
<line x1="111.45" y1="347.4" x2="111.45" y2="349.6" stroke="#000" stroke-width="1.3" stroke-linecap="butt"/>
<line x1="136.82" y1="347.4" x2="136.82" y2="349.6" stroke="#000" stroke-width="1.3" stroke-linecap="butt"/>
<line x1="162.2" y1="347.4" x2="162.2" y2="349.6" stroke="#000" stroke-width="1.3" stroke-linecap="butt"/>
<line x1="187.57" y1="347.4" x2="187.57" y2="349.6" stroke="#000" stroke-width="1.3" stroke-linecap="butt"/>
<line x1="212.95" y1="347.4" x2="212.95" y2="349.6" stroke="#000" stroke-width="1.3" stroke-linecap="butt"/>
<line x1="73.39" y1="347.4" x2="73.39" y2="348.9" stroke="#000" stroke-width="1.3" stroke-linecap="butt"/>
<line x1="98.76" y1="347.4" x2="98.76" y2="348.9" stroke="#000" stroke-width="1.3" stroke-linecap="butt"/>
<line x1="124.14" y1="347.4" x2="124.14" y2="348.9" stroke="#000" stroke-width="1.3" stroke-linecap="butt"/>
<line x1="149.51" y1="347.4" x2="149.51" y2="348.9" stroke="#000" stroke-width="1.3" stroke-linecap="butt"/>
<line x1="174.89" y1="347.4" x2="174.89" y2="348.9" stroke="#000" stroke-width="1.3" stroke-linecap="butt"/>
<line x1="200.26" y1="347.4" x2="200.26" y2="348.9" stroke="#000" stroke-width="1.3" stroke-linecap="butt"/>
<line x1="225.64" y1="347.4" x2="225.64" y2="348.9" stroke="#000" stroke-width="1.3" stroke-linecap="butt"/>
<text x="61.5" y="361.2" font-size="9.6" text-anchor="middle" font-weight="normal" fill="#000">400</text>
<text x="86.88" y="361.2" font-size="9.6" text-anchor="middle" font-weight="normal" fill="#000">450</text>
<text x="112.25" y="361.2" font-size="9.6" text-anchor="middle" font-weight="normal" fill="#000">500</text>
<text x="137.62" y="361.2" font-size="9.6" text-anchor="middle" font-weight="normal" fill="#000">550</text>
<text x="163" y="361.2" font-size="9.6" text-anchor="middle" font-weight="normal" fill="#000">600</text>
<text x="188.38" y="361.2" font-size="9.6" text-anchor="middle" font-weight="normal" fill="#000">650</text>
<text x="213.75" y="361.2" font-size="9.6" text-anchor="middle" font-weight="normal" fill="#000">700</text>
<line x1="47.6" y1="203.3" x2="47.6" y2="347.4" stroke="#000" stroke-width="1.5" stroke-linecap="butt"/>
<line x1="47.6" y1="335" x2="45.4" y2="335" stroke="#000" stroke-width="1.3" stroke-linecap="butt"/>
<line x1="47.6" y1="311.25" x2="45.4" y2="311.25" stroke="#000" stroke-width="1.3" stroke-linecap="butt"/>
<line x1="47.6" y1="287.5" x2="45.4" y2="287.5" stroke="#000" stroke-width="1.3" stroke-linecap="butt"/>
<line x1="47.6" y1="263.75" x2="45.4" y2="263.75" stroke="#000" stroke-width="1.3" stroke-linecap="butt"/>
<line x1="47.6" y1="240" x2="45.4" y2="240" stroke="#000" stroke-width="1.3" stroke-linecap="butt"/>
<line x1="47.6" y1="216.25" x2="45.4" y2="216.25" stroke="#000" stroke-width="1.3" stroke-linecap="butt"/>
<line x1="47.6" y1="323.12" x2="46.1" y2="323.12" stroke="#000" stroke-width="1.3" stroke-linecap="butt"/>
<line x1="47.6" y1="299.38" x2="46.1" y2="299.38" stroke="#000" stroke-width="1.3" stroke-linecap="butt"/>
<line x1="47.6" y1="275.62" x2="46.1" y2="275.62" stroke="#000" stroke-width="1.3" stroke-linecap="butt"/>
<line x1="47.6" y1="251.88" x2="46.1" y2="251.88" stroke="#000" stroke-width="1.3" stroke-linecap="butt"/>
<line x1="47.6" y1="228.12" x2="46.1" y2="228.12" stroke="#000" stroke-width="1.3" stroke-linecap="butt"/>
<text x="42.3" y="338.45" font-size="9.6" text-anchor="end" font-weight="normal" fill="#000">0.0</text>
<text x="42.3" y="314.7" font-size="9.6" text-anchor="end" font-weight="normal" fill="#000">0.2</text>
<text x="42.3" y="290.95" font-size="9.6" text-anchor="end" font-weight="normal" fill="#000">0.4</text>
<text x="42.3" y="267.2" font-size="9.6" text-anchor="end" font-weight="normal" fill="#000">0.6</text>
<text x="42.3" y="243.45" font-size="9.6" text-anchor="end" font-weight="normal" fill="#000">0.8</text>
<text x="42.3" y="219.7" font-size="9.6" text-anchor="end" font-weight="normal" fill="#000">1.0</text>
<text x="139" y="377.3" font-size="10" text-anchor="middle" font-weight="normal" fill="#000" letter-spacing="0.3">Wavelength (nm)</text>
<text x="24.6" y="276.6" font-size="9.95" text-anchor="middle" font-weight="normal" fill="#000" transform="rotate(-90 24.6 276.6)">Normalized Intensity (arb. units)</text>
<line x1="55" y1="216" x2="72.8" y2="216" stroke="#505050" stroke-width="1.5" stroke-linecap="butt"/>
<line x1="55" y1="226.7" x2="72.8" y2="226.7" stroke="#e8262a" stroke-width="1.5" stroke-linecap="butt"/>
<text x="76.6" y="218.2" font-size="9.5" text-anchor="start" font-weight="normal" fill="#000">pHuji</text>
<text x="76.6" y="229.6" font-size="9.6" text-anchor="start" font-weight="normal" fill="#000">pHmScarlet</text>
<path d="M60 334.9C61.67 334.85 66.67 334.92 70 334.6C73.33 334.28 76.67 333.93 80 333C83.33 332.07 86.67 331.08 90 329C93.33 326.92 97 324 100 320.5C103 317 105.5 312.17 108 308C110.5 303.83 112.98 300.17 115 295.5C117.02 290.83 118.6 284.58 120.1 280C121.6 275.42 122.8 271.7 124 268C125.2 264.3 125.82 260.93 127.3 257.8C128.78 254.67 131.52 252 132.9 249.2C134.28 246.4 134.67 243.87 135.6 241C136.53 238.13 137.6 235.27 138.5 232C139.4 228.73 140.17 223.9 141 221.4C141.83 218.9 142.68 217.8 143.5 217C144.32 216.2 145.07 215.93 145.9 216.6C146.73 217.27 147.5 216.87 148.5 221C149.5 225.13 150.65 232.4 151.9 241.4C153.15 250.4 154.85 266.07 156 275C157.15 283.93 157.87 289.77 158.8 295C159.73 300.23 160.65 302.07 161.6 306.4C162.55 310.73 163.53 317.05 164.5 321C165.47 324.95 166.92 328.58 167.4 330.1" fill="none" stroke="#505050" stroke-width="1.6" stroke-linejoin="round" stroke-linecap="round"/>
<path d="M128.75 334.7C129.46 334.58 131.43 334.77 133 334C134.57 333.23 136.87 331.68 138.2 330.1C139.53 328.52 140.08 327.18 141 324.5C141.92 321.82 142.65 319.58 143.7 314C144.75 308.42 146.4 297.5 147.3 291C148.2 284.5 148.65 279.17 149.1 275C149.55 270.83 149.52 270.83 150 266C150.48 261.17 151.38 251.62 152 246C152.62 240.38 153.03 236.63 153.7 232.3C154.37 227.97 155.15 222.62 156 220C156.85 217.38 157.97 216.77 158.8 216.6C159.63 216.43 160.22 217.1 161 219C161.78 220.9 162.59 224.27 163.5 228C164.41 231.73 165.37 236.07 166.45 241.4C167.53 246.73 168.63 254.4 170 260C171.37 265.6 172.98 270 174.65 275C176.32 280 178.06 285.5 180 290C181.94 294.5 184.47 298.67 186.3 302C188.13 305.33 189.47 307.58 191 310C192.53 312.42 194 314.37 195.5 316.5C197 318.63 198.25 320.88 200 322.8C201.75 324.72 203.92 326.52 206 328C208.08 329.48 211.42 331.08 212.5 331.7" fill="none" stroke="#505050" stroke-width="1.6" stroke-linejoin="round" stroke-linecap="round"/>
<path d="M60.5 333.8C62.08 333.43 66.75 332.58 70 331.6C73.25 330.62 76.67 329.75 80 327.9C83.33 326.05 87.08 323.19 90 320.5C92.92 317.81 95 315.17 97.5 311.75C100 308.33 102.71 303.96 105 300C107.29 296.04 109.64 291.33 111.25 288C112.86 284.67 113.18 284.2 114.65 280C116.12 275.8 118.29 267.25 120.1 262.8C121.91 258.35 123.98 254.67 125.5 253.3C127.02 251.93 128.12 254.82 129.2 254.6C130.28 254.38 131.1 253.68 132 252C132.9 250.32 133.57 248.68 134.6 244.5C135.63 240.32 137.13 231.15 138.2 226.9C139.27 222.65 140.15 220.77 141 219C141.85 217.23 142.55 216.3 143.3 216.3C144.05 216.3 144.68 214.82 145.5 219C146.32 223.18 147.2 232.07 148.2 241.4C149.2 250.73 150.37 264.57 151.5 275C152.63 285.43 153.92 296.67 155 304C156.08 311.33 157.08 315.17 158 319C158.92 322.83 159.58 324.92 160.5 327C161.42 329.08 162.35 330.37 163.5 331.5C164.65 332.63 166.75 333.42 167.4 333.8" fill="none" stroke="#e8262a" stroke-width="1.6" stroke-linejoin="round" stroke-linecap="round"/>
<path d="M128.75 322.8C129.46 321.17 131.43 317.25 133 313C134.57 308.75 136.57 303.63 138.2 297.3C139.83 290.97 141.58 281.28 142.8 275C144.02 268.72 144.45 267.62 145.5 259.6C146.55 251.58 148.1 233.67 149.1 226.9C150.1 220.13 150.73 220.77 151.5 219C152.27 217.23 152.95 216.3 153.7 216.3C154.45 216.3 155.2 217.05 156 219C156.8 220.95 157.52 224.27 158.5 228C159.48 231.73 160.65 236.07 161.9 241.4C163.15 246.73 164.48 254.4 166 260C167.52 265.6 169.33 270 171 275C172.67 280 174.08 285.25 176 290C177.92 294.75 180.5 299.83 182.5 303.5C184.5 307.17 186.08 309.25 188 312C189.92 314.75 192 317.58 194 320C196 322.42 198 324.75 200 326.5C202 328.25 203.92 329.5 206 330.5C208.08 331.5 211.42 332.17 212.5 332.5" fill="none" stroke="#e8262a" stroke-width="1.6" stroke-linejoin="round" stroke-linecap="round"/>
<text x="229" y="199.6" font-size="9.5" text-anchor="start" font-weight="bold" fill="#000">e</text>
<line x1="264.8" y1="227.2" x2="264.8" y2="347.8" stroke="#000" stroke-width="1.5" stroke-linecap="butt"/>
<line x1="264.1" y1="347.2" x2="340.8" y2="347.2" stroke="#000" stroke-width="1.5" stroke-linecap="butt"/>
<line x1="259.6" y1="347.25" x2="264.8" y2="347.25" stroke="#000" stroke-width="1.3" stroke-linecap="butt"/>
<text x="258.6" y="350.7" font-size="9.6" text-anchor="end" font-weight="normal" fill="#000">0.0</text>
<line x1="259.6" y1="330.1" x2="264.8" y2="330.1" stroke="#000" stroke-width="1.3" stroke-linecap="butt"/>
<text x="258.6" y="333.55" font-size="9.6" text-anchor="end" font-weight="normal" fill="#000">0.5</text>
<line x1="259.6" y1="312.95" x2="264.8" y2="312.95" stroke="#000" stroke-width="1.3" stroke-linecap="butt"/>
<text x="258.6" y="316.4" font-size="9.6" text-anchor="end" font-weight="normal" fill="#000">1.0</text>
<line x1="259.6" y1="295.8" x2="264.8" y2="295.8" stroke="#000" stroke-width="1.3" stroke-linecap="butt"/>
<text x="258.6" y="299.25" font-size="9.6" text-anchor="end" font-weight="normal" fill="#000">1.5</text>
<line x1="259.6" y1="278.65" x2="264.8" y2="278.65" stroke="#000" stroke-width="1.3" stroke-linecap="butt"/>
<text x="258.6" y="282.1" font-size="9.6" text-anchor="end" font-weight="normal" fill="#000">2.0</text>
<line x1="259.6" y1="261.5" x2="264.8" y2="261.5" stroke="#000" stroke-width="1.3" stroke-linecap="butt"/>
<text x="258.6" y="264.95" font-size="9.6" text-anchor="end" font-weight="normal" fill="#000">2.5</text>
<line x1="259.6" y1="244.35" x2="264.8" y2="244.35" stroke="#000" stroke-width="1.3" stroke-linecap="butt"/>
<text x="258.6" y="247.8" font-size="9.6" text-anchor="end" font-weight="normal" fill="#000">3.0</text>
<line x1="259.6" y1="227.2" x2="264.8" y2="227.2" stroke="#000" stroke-width="1.3" stroke-linecap="butt"/>
<text x="258.6" y="230.65" font-size="9.6" text-anchor="end" font-weight="normal" fill="#000">3.5</text>
<rect x="276.9" y="337" width="21.3" height="10.2" fill="none" stroke="#000" stroke-width="1.3"/>
<rect x="311.25" y="270.1" width="21.55" height="77.1" fill="none" stroke="#000" stroke-width="1.3"/>
<line x1="310.2" y1="270.1" x2="333.9" y2="270.1" stroke="#000" stroke-width="1.4" stroke-linecap="butt"/>
<line x1="321.9" y1="247.3" x2="321.9" y2="291.1" stroke="#000" stroke-width="1.3" stroke-linecap="butt"/>
<line x1="315.6" y1="247.3" x2="328.1" y2="247.3" stroke="#000" stroke-width="1.3" stroke-linecap="butt"/>
<line x1="315.6" y1="291.1" x2="328.1" y2="291.1" stroke="#000" stroke-width="1.3" stroke-linecap="butt"/>
<line x1="281.4" y1="334.6" x2="293.9" y2="334.6" stroke="#000" stroke-width="1.7" stroke-linecap="butt"/>
<line x1="281.4" y1="337.6" x2="293.9" y2="337.6" stroke="#000" stroke-width="1.7" stroke-linecap="butt"/>
<circle cx="277.3" cy="334.1" r="1.9" fill="#000"/>
<circle cx="282.2" cy="338.6" r="1.9" fill="#000"/>
<circle cx="284.9" cy="336" r="1.9" fill="#000"/>
<circle cx="290" cy="336" r="1.9" fill="#000"/>
<circle cx="292.7" cy="334.1" r="1.9" fill="#000"/>
<circle cx="292.3" cy="337.6" r="1.9" fill="#000"/>
<circle cx="297.8" cy="336.25" r="1.9" fill="#000"/>
<rect x="317.5" y="243.8" width="3.6" height="3.6" rx="0.7" fill="#000"/>
<rect x="322.7" y="243.8" width="3.6" height="3.6" rx="0.7" fill="#000"/>
<rect x="320.1" y="255.1" width="3.6" height="3.6" rx="0.7" fill="#000"/>
<rect x="314.9" y="287.8" width="3.6" height="3.6" rx="0.7" fill="#000"/>
<rect x="320.1" y="286.9" width="3.6" height="3.6" rx="0.7" fill="#000"/>
<rect x="324.8" y="287.8" width="3.6" height="3.6" rx="0.7" fill="#000"/>
<path d="M283.1 234.5 V226.8 H322.7 V234.5" fill="none" stroke="#000" stroke-width="1.4"/>
<polygon points="297.6,217.9 298.38,220.13 300.74,220.18 298.86,221.61 299.54,223.87 297.6,222.52 295.66,223.87 296.34,221.61 294.46,220.18 296.82,220.13" fill="#000"/>
<polygon points="303.7,217.9 304.48,220.13 306.84,220.18 304.96,221.61 305.64,223.87 303.7,222.52 301.76,223.87 302.44,221.61 300.56,220.18 302.92,220.13" fill="#000"/>
<polygon points="309.8,217.9 310.58,220.13 312.94,220.18 311.06,221.61 311.74,223.87 309.8,222.52 307.86,223.87 308.54,221.61 306.66,220.18 309.02,220.13" fill="#000"/>
<text x="291" y="358.5" font-size="9.6" text-anchor="end" font-weight="normal" fill="#000" transform="rotate(-27 291 358.5)">pHuji</text>
<text x="327.6" y="358.2" font-size="9.6" text-anchor="end" font-weight="normal" fill="#000" transform="rotate(-27 327.6 358.2)">pHmScarlet</text>
<text x="241.8" y="285.5" font-size="9.6" text-anchor="middle" font-weight="normal" fill="#000" transform="rotate(-90 241.8 285.5)">Ratio ( F<tspan font-size="6.8">FP</tspan> / F<tspan font-size="6.8">SNAP</tspan>)</text>
<text x="343.8" y="199.6" font-size="9.5" text-anchor="start" font-weight="bold" fill="#000">f</text>
<line x1="395.7" y1="346" x2="560.65" y2="346" stroke="#000" stroke-width="1.5" stroke-linecap="butt"/>
<line x1="400.6" y1="346" x2="400.6" y2="348.2" stroke="#000" stroke-width="1.3" stroke-linecap="butt"/>
<line x1="424.85" y1="346" x2="424.85" y2="348.2" stroke="#000" stroke-width="1.3" stroke-linecap="butt"/>
<line x1="449.1" y1="346" x2="449.1" y2="348.2" stroke="#000" stroke-width="1.3" stroke-linecap="butt"/>
<line x1="473.35" y1="346" x2="473.35" y2="348.2" stroke="#000" stroke-width="1.3" stroke-linecap="butt"/>
<line x1="497.6" y1="346" x2="497.6" y2="348.2" stroke="#000" stroke-width="1.3" stroke-linecap="butt"/>
<line x1="521.85" y1="346" x2="521.85" y2="348.2" stroke="#000" stroke-width="1.3" stroke-linecap="butt"/>
<line x1="546.1" y1="346" x2="546.1" y2="348.2" stroke="#000" stroke-width="1.3" stroke-linecap="butt"/>
<line x1="412.73" y1="346" x2="412.73" y2="347.5" stroke="#000" stroke-width="1.3" stroke-linecap="butt"/>
<line x1="436.98" y1="346" x2="436.98" y2="347.5" stroke="#000" stroke-width="1.3" stroke-linecap="butt"/>
<line x1="461.23" y1="346" x2="461.23" y2="347.5" stroke="#000" stroke-width="1.3" stroke-linecap="butt"/>
<line x1="485.48" y1="346" x2="485.48" y2="347.5" stroke="#000" stroke-width="1.3" stroke-linecap="butt"/>
<line x1="509.73" y1="346" x2="509.73" y2="347.5" stroke="#000" stroke-width="1.3" stroke-linecap="butt"/>
<line x1="533.98" y1="346" x2="533.98" y2="347.5" stroke="#000" stroke-width="1.3" stroke-linecap="butt"/>
<line x1="558.23" y1="346" x2="558.23" y2="347.5" stroke="#000" stroke-width="1.3" stroke-linecap="butt"/>
<text x="400.6" y="360.8" font-size="9.6" text-anchor="middle" font-weight="normal" fill="#000">0</text>
<text x="425.95" y="360.8" font-size="9.6" text-anchor="middle" font-weight="normal" fill="#000">25</text>
<text x="450.2" y="360.8" font-size="9.6" text-anchor="middle" font-weight="normal" fill="#000">50</text>
<text x="474.45" y="360.8" font-size="9.6" text-anchor="middle" font-weight="normal" fill="#000">75</text>
<text x="500.1" y="360.8" font-size="9.6" text-anchor="middle" font-weight="normal" fill="#000">100</text>
<text x="524.35" y="360.8" font-size="9.6" text-anchor="middle" font-weight="normal" fill="#000">125</text>
<text x="548.6" y="360.8" font-size="9.6" text-anchor="middle" font-weight="normal" fill="#000">150</text>
<line x1="395.7" y1="212.4" x2="395.7" y2="346" stroke="#000" stroke-width="1.5" stroke-linecap="butt"/>
<line x1="395.7" y1="345.3" x2="393.5" y2="345.3" stroke="#000" stroke-width="1.3" stroke-linecap="butt"/>
<line x1="395.7" y1="315.9" x2="393.5" y2="315.9" stroke="#000" stroke-width="1.3" stroke-linecap="butt"/>
<line x1="395.7" y1="286.5" x2="393.5" y2="286.5" stroke="#000" stroke-width="1.3" stroke-linecap="butt"/>
<line x1="395.7" y1="257.1" x2="393.5" y2="257.1" stroke="#000" stroke-width="1.3" stroke-linecap="butt"/>
<line x1="395.7" y1="227.7" x2="393.5" y2="227.7" stroke="#000" stroke-width="1.3" stroke-linecap="butt"/>
<line x1="395.7" y1="330.6" x2="394.2" y2="330.6" stroke="#000" stroke-width="1.3" stroke-linecap="butt"/>
<line x1="395.7" y1="301.2" x2="394.2" y2="301.2" stroke="#000" stroke-width="1.3" stroke-linecap="butt"/>
<line x1="395.7" y1="271.8" x2="394.2" y2="271.8" stroke="#000" stroke-width="1.3" stroke-linecap="butt"/>
<line x1="395.7" y1="242.4" x2="394.2" y2="242.4" stroke="#000" stroke-width="1.3" stroke-linecap="butt"/>
<line x1="395.7" y1="213" x2="394.2" y2="213" stroke="#000" stroke-width="1.3" stroke-linecap="butt"/>
<text x="389" y="319.35" font-size="9.6" text-anchor="end" font-weight="normal" fill="#000">0.25</text>
<text x="389" y="289.95" font-size="9.6" text-anchor="end" font-weight="normal" fill="#000">0.50</text>
<text x="389" y="260.55" font-size="9.6" text-anchor="end" font-weight="normal" fill="#000">0.75</text>
<text x="389" y="231.15" font-size="9.6" text-anchor="end" font-weight="normal" fill="#000">1.00</text>
<text x="388.6" y="344.6" font-size="9.6" text-anchor="end" font-weight="normal" fill="#000">0</text>
<text x="485" y="377" font-size="9.6" text-anchor="middle" font-weight="normal" fill="#000">Time (s)</text>
<text x="369.5" y="278.1" font-size="9.4" text-anchor="middle" font-weight="normal" fill="#000" transform="rotate(-90 369.5 278.1)">Fluorescence Intensity (arb. units)</text>
<line x1="480.5" y1="217.9" x2="498.8" y2="217.9" stroke="#505050" stroke-width="1.6" stroke-linecap="butt"/>
<line x1="480.5" y1="229.5" x2="498.8" y2="229.5" stroke="#e8262a" stroke-width="1.5" stroke-linecap="butt"/>
<text x="506.3" y="220.3" font-size="9.5" text-anchor="start" font-weight="normal" fill="#000">pHuji</text>
<text x="506.3" y="231.8" font-size="9.5" text-anchor="start" font-weight="normal" fill="#000">pHmScarlet</text>
<path d="M400.6 300.02 L401.09 313.31 L401.57 320.13 L402.06 323.63 L402.54 325.43 L403.03 326.36 L403.51 326.84 L404 327.09 L404.48 327.22 L404.97 327.29 L405.45 327.33 L405.94 327.35 L406.42 327.37 L406.91 327.38 L407.39 327.39 L407.88 327.39 L408.36 327.4 L408.85 327.41 L409.33 327.41 L409.81 327.42 L410.3 327.42 L410.79 327.43 L411.27 327.44 L411.75 327.44 L412.24 327.45 L412.73 327.45 L413.21 327.46 L413.7 327.47 L414.18 327.47 L414.67 327.48 L415.15 327.48 L415.64 327.49 L416.12 327.5 L416.61 327.5 L417.09 327.51 L417.58 327.51 L418.06 327.52 L418.55 327.52 L419.03 327.53 L419.52 327.54 L420 327.54 L420.49 327.55 L420.97 327.55 L421.46 327.56 L421.94 327.57 L422.43 327.57 L422.91 327.58 L423.4 327.58 L423.88 327.59 L424.37 327.6 L424.85 327.6 L425.34 327.61 L425.82 327.61 L426.31 327.62 L426.79 327.62 L427.28 327.63 L427.76 327.64 L428.25 327.64 L428.73 327.65 L429.22 327.65 L429.7 327.66 L430.19 327.67 L430.67 327.67 L431.16 327.68 L431.64 327.68 L432.12 327.69 L432.61 327.7 L433.1 327.7 L433.58 327.71 L434.06 327.71 L434.55 327.72 L435.04 327.72 L435.52 327.73 L436 327.74 L436.49 327.74 L436.98 327.75 L437.46 327.75 L437.95 327.76 L438.43 327.77 L438.92 327.77 L439.4 327.78 L439.88 327.78 L440.37 327.79 L440.86 327.8 L441.34 327.8 L441.83 327.81 L442.31 327.81 L442.8 327.82 L443.28 327.82 L443.77 327.83 L444.25 327.84 L444.74 327.84 L445.22 327.85 L445.71 327.85 L446.19 327.86 L446.68 327.87 L447.16 327.87 L447.65 327.88 L448.13 327.88 L448.62 327.89 L449.1 327.9 L449.59 327.9 L450.07 327.91 L450.56 327.91 L451.04 327.92 L451.53 327.92 L452.01 327.93 L452.5 327.94 L452.98 327.94 L453.47 327.95 L453.95 327.95 L454.44 327.96 L454.92 327.97 L455.41 327.97 L455.89 327.98 L456.38 327.98 L456.86 327.99 L457.35 328 L457.83 328 L458.31 328.01 L458.8 328.01 L459.29 328.02 L459.77 328.02 L460.25 328.03 L460.74 328.04 L461.23 328.04 L461.71 328.05 L462.2 328.05 L462.68 328.06 L463.17 328.07 L463.65 328.07 L464.13 328.08 L464.62 328.08 L465.11 328.09 L465.59 328.1 L466.08 328.1 L466.56 328.11 L467.05 328.11 L467.53 328.12 L468.01 328.12 L468.5 328.13 L468.99 328.14 L469.47 328.14 L469.96 328.15 L470.44 328.15 L470.93 328.16 L471.41 328.17 L471.9 328.17 L472.38 328.18 L472.87 328.18 L473.35 328.19 L473.84 328.2 L474.32 328.2 L474.81 328.21 L475.29 328.21 L475.78 328.22 L476.26 328.22 L476.75 328.23 L477.23 328.24 L477.72 328.24 L478.2 328.25 L478.69 328.25 L479.17 328.26 L479.66 328.27 L480.14 328.27 L480.62 328.28 L481.11 328.28 L481.6 328.29 L482.08 328.3 L482.57 328.3 L483.05 328.31 L483.54 328.31 L484.02 328.32 L484.5 328.32 L484.99 328.33 L485.48 328.34 L485.96 328.34 L486.45 328.35 L486.93 328.35 L487.42 328.36 L487.9 328.37 L488.38 328.37 L488.87 328.38 L489.36 328.38 L489.84 328.39 L490.33 328.4 L490.81 328.4 L491.3 328.41 L491.78 328.41 L492.26 328.42 L492.75 328.42 L493.24 328.43 L493.72 328.44 L494.21 328.44 L494.69 328.45 L495.18 328.45 L495.66 328.46 L496.15 328.47 L496.63 328.47 L497.12 328.48 L497.6 328.48 L498.09 328.49 L498.57 328.49 L499.06 328.5 L499.54 328.51 L500.03 328.51 L500.51 328.52 L501 328.52 L501.48 328.53 L501.97 328.54 L502.45 328.54 L502.94 328.55 L503.42 328.55 L503.91 328.56 L504.39 328.57 L504.88 328.57 L505.36 328.58 L505.85 328.58 L506.33 328.59 L506.82 328.59 L507.3 328.6 L507.79 328.61 L508.27 328.61 L508.75 328.62 L509.24 328.62 L509.73 328.63 L510.21 328.64 L510.7 328.64 L511.18 328.65 L511.67 328.65 L512.15 328.66 L512.63 328.67 L513.12 328.67 L513.61 328.68 L514.09 328.68 L514.58 328.69 L515.06 328.69 L515.55 328.7 L516.03 328.71 L516.51 328.71 L517 328.72 L517.49 328.72 L517.97 328.73 L518.46 328.74 L518.94 328.74 L519.43 328.75 L519.91 328.75 L520.39 328.76 L520.88 328.77 L521.37 328.77 L521.85 328.78 L522.34 328.78 L522.82 328.79 L523.31 328.79 L523.79 328.8 L524.27 328.81 L524.76 328.81 L525.25 328.82 L525.73 328.82 L526.22 328.83 L526.7 328.84 L527.19 328.84 L527.67 328.85 L528.15 328.85 L528.64 328.86 L529.12 328.87 L529.61 328.87 L530.1 328.88 L530.58 328.88 L531.07 328.89 L531.55 328.89 L532.04 328.9 L532.52 328.91 L533 328.91 L533.49 328.92 L533.98 328.92 L534.46 328.93 L534.95 328.94 L535.43 328.94 L535.91 328.95 L536.4 328.95 L536.88 328.96 L537.37 328.97 L537.86 328.97 L538.34 328.98 L538.83 328.98 L539.31 328.99 L539.8 328.99 L540.28 329 L540.76 329.01 L541.25 329.01 L541.74 329.02 L542.22 329.02 L542.71 329.03 L543.19 329.04 L543.67 329.04 L544.16 329.05 L544.64 329.05 L545.13 329.06 L545.62 329.07 L546.1 329.07 L546.59 329.08 L547.07 329.08 L547.56 329.09 L548.04 329.09 L548.52 329.1 L549.01 329.11 L549.5 329.11 L549.98 329.12 L550.47 329.12 L550.95 329.13 L551.44 329.14 L551.92 329.14 L552.4 329.15 L552.89 329.15 L553.38 329.16 L553.86 329.17 L554.35 329.17 L554.83 329.18 L555.32 329.18 L555.8 329.19 L556.29 329.19 L556.77 329.2 L557.25 329.21 L557.74 329.21 L558.23 329.22 L558.71 329.22 L559.2 329.23 L559.68 329.24 L560.16 329.24 L560.65 329.25" fill="none" stroke="#111" stroke-width="1.7" stroke-linejoin="round" stroke-linecap="round"/>
<path d="M400.6 224.51 L401.09 226.73 L401.57 228.86 L402.06 230.89 L402.54 232.84 L403.03 234.71 L403.51 236.5 L404 238.22 L404.48 239.88 L404.97 241.47 L405.45 243 L405.94 244.48 L406.42 245.9 L406.91 247.28 L407.39 248.61 L407.88 249.9 L408.36 251.14 L408.85 252.35 L409.33 253.51 L409.81 254.65 L410.3 255.75 L410.79 256.82 L411.27 257.86 L411.75 258.87 L412.24 259.86 L412.73 260.82 L413.21 261.76 L413.7 262.67 L414.18 263.56 L414.67 264.43 L415.15 265.29 L415.64 266.12 L416.12 266.94 L416.61 267.74 L417.09 268.52 L417.58 269.29 L418.06 270.04 L418.55 270.78 L419.03 271.51 L419.52 272.22 L420 272.92 L420.49 273.6 L420.97 274.28 L421.46 274.95 L421.94 275.6 L422.43 276.24 L422.91 276.88 L423.4 277.5 L423.88 278.12 L424.37 278.72 L424.85 279.32 L425.34 279.91 L425.82 280.49 L426.31 281.06 L426.79 281.63 L427.28 282.18 L427.76 282.73 L428.25 283.28 L428.73 283.81 L429.22 284.34 L429.7 284.86 L430.19 285.38 L430.67 285.89 L431.16 286.39 L431.64 286.89 L432.12 287.38 L432.61 287.86 L433.1 288.34 L433.58 288.82 L434.06 289.29 L434.55 289.75 L435.04 290.21 L435.52 290.66 L436 291.11 L436.49 291.55 L436.98 291.99 L437.46 292.43 L437.95 292.85 L438.43 293.28 L438.92 293.7 L439.4 294.11 L439.88 294.52 L440.37 294.93 L440.86 295.33 L441.34 295.73 L441.83 296.12 L442.31 296.51 L442.8 296.9 L443.28 297.28 L443.77 297.66 L444.25 298.03 L444.74 298.4 L445.22 298.76 L445.71 299.13 L446.19 299.48 L446.68 299.84 L447.16 300.19 L447.65 300.54 L448.13 300.88 L448.62 301.22 L449.1 301.56 L449.59 301.89 L450.07 302.22 L450.56 302.55 L451.04 302.87 L451.53 303.19 L452.01 303.51 L452.5 303.82 L452.98 304.13 L453.47 304.44 L453.95 304.74 L454.44 305.04 L454.92 305.34 L455.41 305.64 L455.89 305.93 L456.38 306.22 L456.86 306.5 L457.35 306.79 L457.83 307.07 L458.31 307.35 L458.8 307.62 L459.29 307.89 L459.77 308.16 L460.25 308.43 L460.74 308.69 L461.23 308.95 L461.71 309.21 L462.2 309.47 L462.68 309.72 L463.17 309.97 L463.65 310.22 L464.13 310.47 L464.62 310.71 L465.11 310.95 L465.59 311.19 L466.08 311.43 L466.56 311.66 L467.05 311.9 L467.53 312.13 L468.01 312.35 L468.5 312.58 L468.99 312.8 L469.47 313.02 L469.96 313.24 L470.44 313.46 L470.93 313.67 L471.41 313.88 L471.9 314.09 L472.38 314.3 L472.87 314.51 L473.35 314.71 L473.84 314.91 L474.32 315.11 L474.81 315.31 L475.29 315.5 L475.78 315.7 L476.26 315.89 L476.75 316.08 L477.23 316.27 L477.72 316.45 L478.2 316.64 L478.69 316.82 L479.17 317 L479.66 317.18 L480.14 317.36 L480.62 317.53 L481.11 317.7 L481.6 317.88 L482.08 318.05 L482.57 318.22 L483.05 318.38 L483.54 318.55 L484.02 318.71 L484.5 318.87 L484.99 319.03 L485.48 319.19 L485.96 319.35 L486.45 319.5 L486.93 319.66 L487.42 319.81 L487.9 319.96 L488.38 320.11 L488.87 320.26 L489.36 320.4 L489.84 320.55 L490.33 320.69 L490.81 320.84 L491.3 320.98 L491.78 321.12 L492.26 321.25 L492.75 321.39 L493.24 321.53 L493.72 321.66 L494.21 321.79 L494.69 321.92 L495.18 322.05 L495.66 322.18 L496.15 322.31 L496.63 322.44 L497.12 322.56 L497.6 322.68 L498.09 322.81 L498.57 322.93 L499.06 323.05 L499.54 323.17 L500.03 323.28 L500.51 323.4 L501 323.52 L501.48 323.63 L501.97 323.74 L502.45 323.85 L502.94 323.96 L503.42 324.07 L503.91 324.18 L504.39 324.29 L504.88 324.4 L505.36 324.5 L505.85 324.61 L506.33 324.71 L506.82 324.81 L507.3 324.91 L507.79 325.01 L508.27 325.11 L508.75 325.21 L509.24 325.31 L509.73 325.4 L510.21 325.5 L510.7 325.59 L511.18 325.69 L511.67 325.78 L512.15 325.87 L512.63 325.96 L513.12 326.05 L513.61 326.14 L514.09 326.23 L514.58 326.32 L515.06 326.4 L515.55 326.49 L516.03 326.57 L516.51 326.66 L517 326.74 L517.49 326.82 L517.97 326.9 L518.46 326.98 L518.94 327.06 L519.43 327.14 L519.91 327.22 L520.39 327.3 L520.88 327.37 L521.37 327.45 L521.85 327.53 L522.34 327.6 L522.82 327.67 L523.31 327.75 L523.79 327.82 L524.27 327.89 L524.76 327.96 L525.25 328.03 L525.73 328.1 L526.22 328.17 L526.7 328.24 L527.19 328.3 L527.67 328.37 L528.15 328.44 L528.64 328.5 L529.12 328.57 L529.61 328.63 L530.1 328.69 L530.58 328.76 L531.07 328.82 L531.55 328.88 L532.04 328.94 L532.52 329 L533 329.06 L533.49 329.12 L533.98 329.18 L534.46 329.24 L534.95 329.29 L535.43 329.35 L535.91 329.41 L536.4 329.46 L536.88 329.52 L537.37 329.57 L537.86 329.63 L538.34 329.68 L538.83 329.73 L539.31 329.78 L539.8 329.84 L540.28 329.89 L540.76 329.94 L541.25 329.99 L541.74 330.04 L542.22 330.09 L542.71 330.14 L543.19 330.19 L543.67 330.23 L544.16 330.28 L544.64 330.33 L545.13 330.37 L545.62 330.42 L546.1 330.47 L546.59 330.51 L547.07 330.56 L547.56 330.6 L548.04 330.64 L548.52 330.69 L549.01 330.73 L549.5 330.77 L549.98 330.81 L550.47 330.86 L550.95 330.9 L551.44 330.94 L551.92 330.98 L552.4 331.02 L552.89 331.06 L553.38 331.1 L553.86 331.14 L554.35 331.17 L554.83 331.21 L555.32 331.25 L555.8 331.29 L556.29 331.32 L556.77 331.36 L557.25 331.4 L557.74 331.43 L558.23 331.47 L558.71 331.5 L559.2 331.54 L559.68 331.57 L560.16 331.61 L560.65 331.64" fill="none" stroke="#e8262a" stroke-width="1.7" stroke-linejoin="round" stroke-linecap="round"/>
<text x="570" y="199.6" font-size="9.5" text-anchor="start" font-weight="bold" fill="#000">g</text>
<line x1="598.75" y1="222" x2="598.75" y2="349.6" stroke="#000" stroke-width="1.5" stroke-linecap="butt"/>
<line x1="598.05" y1="349" x2="685" y2="349" stroke="#000" stroke-width="1.5" stroke-linecap="butt"/>
<line x1="593.25" y1="348.5" x2="598.75" y2="348.5" stroke="#000" stroke-width="1.3" stroke-linecap="butt"/>
<text x="592.6" y="351.95" font-size="9.6" text-anchor="end" font-weight="normal" fill="#000">0</text>
<line x1="593.25" y1="330.43" x2="598.75" y2="330.43" stroke="#000" stroke-width="1.3" stroke-linecap="butt"/>
<text x="592.6" y="333.88" font-size="9.6" text-anchor="end" font-weight="normal" fill="#000">5</text>
<line x1="593.25" y1="312.36" x2="598.75" y2="312.36" stroke="#000" stroke-width="1.3" stroke-linecap="butt"/>
<text x="592.6" y="315.81" font-size="9.6" text-anchor="end" font-weight="normal" fill="#000">10</text>
<line x1="593.25" y1="294.29" x2="598.75" y2="294.29" stroke="#000" stroke-width="1.3" stroke-linecap="butt"/>
<text x="592.6" y="297.74" font-size="9.6" text-anchor="end" font-weight="normal" fill="#000">15</text>
<line x1="593.25" y1="276.22" x2="598.75" y2="276.22" stroke="#000" stroke-width="1.3" stroke-linecap="butt"/>
<text x="592.6" y="279.67" font-size="9.6" text-anchor="end" font-weight="normal" fill="#000">20</text>
<line x1="593.25" y1="258.15" x2="598.75" y2="258.15" stroke="#000" stroke-width="1.3" stroke-linecap="butt"/>
<text x="592.6" y="261.6" font-size="9.6" text-anchor="end" font-weight="normal" fill="#000">25</text>
<line x1="593.25" y1="240.08" x2="598.75" y2="240.08" stroke="#000" stroke-width="1.3" stroke-linecap="butt"/>
<text x="592.6" y="243.53" font-size="9.6" text-anchor="end" font-weight="normal" fill="#000">30</text>
<line x1="593.25" y1="222.01" x2="598.75" y2="222.01" stroke="#000" stroke-width="1.3" stroke-linecap="butt"/>
<text x="592.6" y="225.46" font-size="9.6" text-anchor="end" font-weight="normal" fill="#000">35</text>
<rect x="611.3" y="345.5" width="23.9" height="3.1" fill="none" stroke="#000" stroke-width="1.3"/>
<rect x="647.9" y="247.1" width="23.3" height="101.9" fill="none" stroke="#000" stroke-width="1.3"/>
<line x1="659.5" y1="231.5" x2="659.5" y2="260.3" stroke="#000" stroke-width="1.3" stroke-linecap="butt"/>
<line x1="653" y1="231.5" x2="665.8" y2="231.5" stroke="#000" stroke-width="1.3" stroke-linecap="butt"/>
<line x1="653" y1="260.3" x2="665.8" y2="260.3" stroke="#000" stroke-width="1.3" stroke-linecap="butt"/>
<circle cx="659.5" cy="231.5" r="2.1" fill="#000"/>
<circle cx="659.5" cy="247" r="2.1" fill="#000"/>
<circle cx="659.5" cy="260.5" r="2.1" fill="#000"/>
<circle cx="617.6" cy="345.3" r="1.7" fill="#000"/>
<circle cx="622.5" cy="345.3" r="1.7" fill="#000"/>
<circle cx="628.2" cy="345.3" r="1.7" fill="#000"/>
<path d="M619 221.5 V213.8 H658.9 V221.5" fill="none" stroke="#000" stroke-width="1.4"/>
<polygon points="636,204.6 636.85,207.04 639.42,207.09 637.37,208.64 638.12,211.11 636,209.64 633.88,211.11 634.63,208.64 632.58,207.09 635.15,207.04" fill="#000"/>
<polygon points="642.2,204.6 643.05,207.04 645.62,207.09 643.57,208.64 644.32,211.11 642.2,209.64 640.08,211.11 640.83,208.64 638.78,207.09 641.35,207.04" fill="#000"/>
<text x="627.1" y="359.5" font-size="9.6" text-anchor="end" font-weight="normal" fill="#000" transform="rotate(-27 627.1 359.5)">pHuji</text>
<text x="664.2" y="358.7" font-size="9.6" text-anchor="end" font-weight="normal" fill="#000" transform="rotate(-27 664.2 358.7)">pHmScarlet</text>
<text x="577" y="284" font-size="9.6" text-anchor="middle" font-weight="normal" fill="#000" transform="rotate(-90 577 284)">t<tspan font-size="6.8">1/2</tspan> ( s )</text>
</svg></body></html>
